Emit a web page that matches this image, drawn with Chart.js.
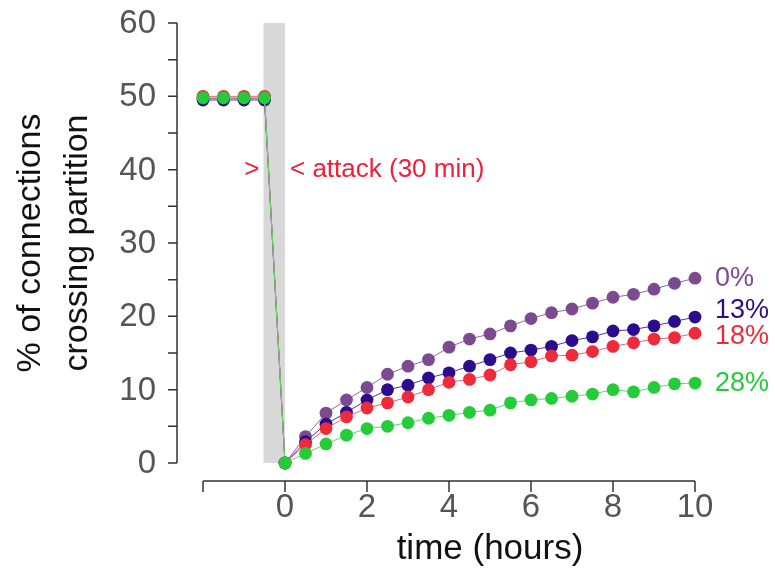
<!DOCTYPE html>
<html>
<head>
<meta charset="utf-8">
<script src="https://cdn.jsdelivr.net/npm/chart.js@4.4.0/dist/chart.umd.min.js"></script>
<style>
  body { margin: 0; background: #fff; }
  #wrap { width: 775px; height: 568px; }
</style>
</head>
<body>
<div id="wrap"><canvas id="myCanvas" width="775" height="568"></canvas></div>
<script>
var hours = [-2, -1.5, -1, -0.5, 0, 0.5, 1, 1.5, 2, 2.5, 3, 3.5, 4, 4.5, 5, 5.5, 6, 6.5, 7, 7.5, 8, 8.5, 9, 9.5, 10];

var names = ["0%", "13%", "18%", "28%"];
var pct0 = [49.7, 49.7, 49.7, 49.7, 0, 3.6, 6.8, 8.6, 10.3, 12.1, 13.2, 14.1, 15.8, 16.9, 17.6, 18.7, 19.7, 20.5, 21.0, 21.8, 22.6, 23.0, 23.7, 24.5, 25.2];
var pct13 = [49.5, 49.5, 49.5, 49.5, 0, 2.9, 5.3, 6.9, 8.6, 10.0, 10.6, 11.6, 12.3, 13.2, 14.1, 15.0, 15.4, 15.9, 16.7, 17.2, 18.0, 18.2, 18.7, 19.3, 19.9];
var pct18 = [50.0, 50.0, 50.0, 50.0, 0, 2.5, 4.7, 6.3, 7.5, 8.2, 9.0, 10.0, 11.0, 11.4, 12.0, 13.4, 13.8, 14.6, 14.7, 15.2, 15.9, 16.4, 16.9, 17.1, 17.7];
var pct28 = [49.8, 49.8, 49.8, 49.8, 0, 1.3, 2.6, 3.8, 4.7, 5.0, 5.5, 6.1, 6.5, 6.9, 7.2, 8.2, 8.6, 8.8, 9.1, 9.4, 10.0, 9.7, 10.3, 10.8, 10.9];

// where the series names sit at the right end (y values)
var nameY = [25.2, 20.8, 17.3, 10.9];

var xTicks = [-2, 0, 2, 4, 6, 8, 10];
var xTickLabels = ["", "0", "2", "4", "6", "8", "10"];
var yTicks = [0, 5, 10, 15, 20, 25, 30, 35, 40, 45, 50, 55, 60];
var yTickLabels = ["0", "", "10", "", "20", "", "30", "", "40", "", "50", "", "60"];

var attackStart = -0.5;
var attackEnd = 0;

var colors = ["#7b4a91", "#2a0c8c", "#ee2a3b", "#24cc3a"];
var lineColors = ["#8c66a3", "#4a36a0", "#f06070", "#5cd86a"];
var FONT = "'Liberation Sans', Arial, Helvetica, sans-serif";

function pairs(vals) {
    var out = [];
    for (var i = 0; i < hours.length; i++) {
        out.push({ x: hours[i], y: vals[i] });
    }
    return out;
}

var series = [pct0, pct13, pct18, pct28];
var datasets = [];
for (var s = 0; s < series.length; s++) {
    datasets.push({
        label: names[s],
        data: pairs(series[s]),
        borderColor: lineColors[s],
        borderWidth: 1,
        backgroundColor: colors[s],
        pointBackgroundColor: colors[s],
        pointBorderWidth: 0,
        pointRadius: 6.4,
        clip: false,
        order: series.length - s
    });
}

var extras = {
    id: "extras",
    beforeDatasetsDraw: function (chart) {
        var ctx = chart.ctx;
        var xs = chart.scales.x, ys = chart.scales.y;
        ctx.save();
        ctx.fillStyle = "#d8d8d8";
        var x0 = xs.getPixelForValue(attackStart) - 1, x1 = xs.getPixelForValue(attackEnd);
        var yTop = ys.getPixelForValue(60), yBot = ys.getPixelForValue(0);
        ctx.fillRect(x0, yTop, x1 - x0, yBot - yTop);
        ctx.restore();
    },
    afterDraw: function (chart) {
        var ctx = chart.ctx;
        var xs = chart.scales.x, ys = chart.scales.y;
        ctx.save();

        // y axis (detached, R style)
        var ax = chart.chartArea.left - 26;
        ctx.strokeStyle = "#333";
        ctx.lineWidth = 1.5;
        ctx.beginPath();
        ctx.moveTo(ax, ys.getPixelForValue(yTicks[0]));
        ctx.lineTo(ax, ys.getPixelForValue(yTicks[yTicks.length - 1]));
        for (var i = 0; i < yTicks.length; i++) {
            var py = ys.getPixelForValue(yTicks[i]);
            ctx.moveTo(ax - 9, py);
            ctx.lineTo(ax, py);
        }
        ctx.stroke();
        ctx.fillStyle = "#555";
        ctx.font = "33px " + FONT;
        ctx.textAlign = "right";
        ctx.textBaseline = "middle";
        for (var i = 0; i < yTicks.length; i++) {
            if (yTickLabels[i]) ctx.fillText(yTickLabels[i], ax - 21, ys.getPixelForValue(yTicks[i]) + 1);
        }

        // x axis
        var ay = chart.chartArea.bottom + 18;
        ctx.beginPath();
        ctx.moveTo(xs.getPixelForValue(xTicks[0]), ay);
        ctx.lineTo(xs.getPixelForValue(xTicks[xTicks.length - 1]), ay);
        for (var i = 0; i < xTicks.length; i++) {
            var px = xs.getPixelForValue(xTicks[i]);
            ctx.moveTo(px, ay);
            ctx.lineTo(px, ay + 11);
        }
        ctx.stroke();
        ctx.textAlign = "center";
        ctx.textBaseline = "middle";
        for (var i = 0; i < xTicks.length; i++) {
            if (xTickLabels[i]) ctx.fillText(xTickLabels[i], xs.getPixelForValue(xTicks[i]), ay + 27);
        }

        // axis titles
        ctx.fillStyle = "#111";
        ctx.font = "35px " + FONT;
        ctx.textBaseline = "middle";
        ctx.fillText("time (hours)", (xs.getPixelForValue(0) + xs.getPixelForValue(10)) / 2, 549);
        ctx.font = "34px " + FONT;
        ctx.save();
        ctx.translate(31, 243);
        ctx.rotate(-Math.PI / 2);
        ctx.fillText("% of connections", 0, 0);
        ctx.restore();
        ctx.save();
        ctx.translate(78, 243);
        ctx.rotate(-Math.PI / 2);
        ctx.fillText("crossing partition", 0, 0);
        ctx.restore();

        // attack annotation
        ctx.fillStyle = "#f0203a";
        ctx.font = "26px " + FONT;
        ctx.textAlign = "right";
        ctx.fillText(">", xs.getPixelForValue(attackStart) - 5, ys.getPixelForValue(40));
        ctx.textAlign = "left";
        ctx.fillText("< attack (30 min)", xs.getPixelForValue(attackEnd) + 5, ys.getPixelForValue(40));

        // series names at right
        ctx.font = "27px " + FONT;
        for (var s = 0; s < names.length; s++) {
            ctx.fillStyle = colors[s];
            ctx.fillText(names[s], xs.getPixelForValue(10) + 20, ys.getPixelForValue(nameY[s]));
        }
        ctx.restore();
    }
};

new Chart(document.getElementById("myCanvas"), {
    type: "line",
    data: { datasets: datasets },
    options: {
        responsive: false,
        animation: false,
        layout: { padding: { left: 203, right: 80, top: 23, bottom: 105 } },
        plugins: { legend: { display: false }, tooltip: { enabled: false } },
        scales: {
            x: { type: "linear", min: -2, max: 10, display: false },
            y: { min: 0, max: 60, display: false }
        }
    },
    plugins: [extras]
});
</script>
</body>
</html>
